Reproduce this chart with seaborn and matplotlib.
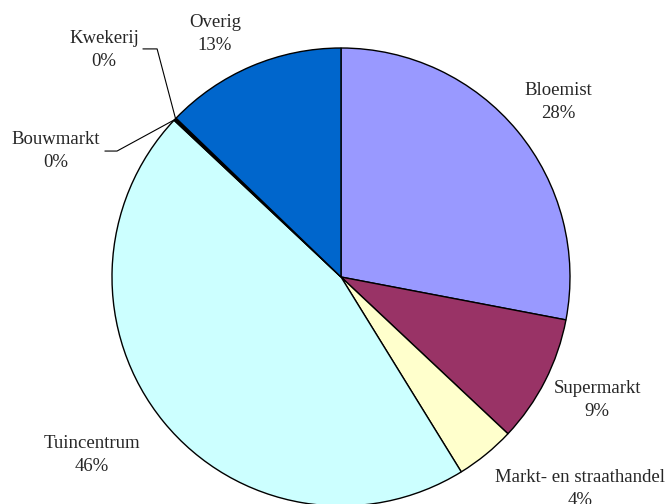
import numpy as np
import matplotlib
matplotlib.use("Agg")
import matplotlib.pyplot as plt
import seaborn as sns

# share of sales per channel (percent), clockwise from the top
channels = ["Bloemist", "Supermarkt", "Markt- en straathandel", "Tuincentrum",
            "Bouwmarkt", "Kwekerij", "Overig"]
shares = [28.0, 9.0, 4.2, 45.8, 0.1, 0.1, 12.8]
colors = ["#9999FF", "#993366", "#FFFFCC", "#CCFFFF", "#CCFFFF", "#0066CC", "#0066CC"]

# label centres (in pie-radius units) and leader line elbows for the tiny slices
label_pos = [(0.948, 0.764), (1.119, -0.537), (1.044, -0.926), (-1.087, -0.777),
             (-1.245, 0.550), (-1.035, 0.991), (-0.550, 1.061)]
leaders = {"Bouwmarkt": [(-0.978, 0.550), (-1.031, 0.550)],
           "Kwekerij": [(-0.803, 0.996), (-0.865, 0.996)]}

sns.set_style("white")
plt.rcParams["font.family"] = ["Liberation Serif", "DejaVu Serif"]

fig = plt.figure(figsize=(6.69, 5.04), dpi=100)
ax = fig.add_axes([0, 0, 1, 1])

wedges, _ = ax.pie(shares, colors=colors, startangle=90, counterclock=False,
                   radius=1.0, center=(0, 0),
                   wedgeprops=dict(edgecolor="black", linewidth=1.0))

for w, name, val, (lx, ly) in zip(wedges, channels, shares, label_pos):
    ax.text(lx, ly, f"{name}\n{round(val):d}%", ha="center", va="center",
            multialignment="center", fontsize=13.5, linespacing=1.45)
    if name in leaders:
        mid = np.deg2rad((w.theta1 + w.theta2) / 2)
        pts = [(np.cos(mid), np.sin(mid))] + leaders[name]
        xs, ys = zip(*pts)
        ax.plot(xs, ys, color="black", linewidth=0.8)

ax.set_xlim(-341 / 229, 328 / 229)
ax.set_ylim(-(504 - 277) / 229, 277 / 229)
ax.set_aspect("auto")
ax.axis("off")

fig.savefig("out.png", dpi=100)
